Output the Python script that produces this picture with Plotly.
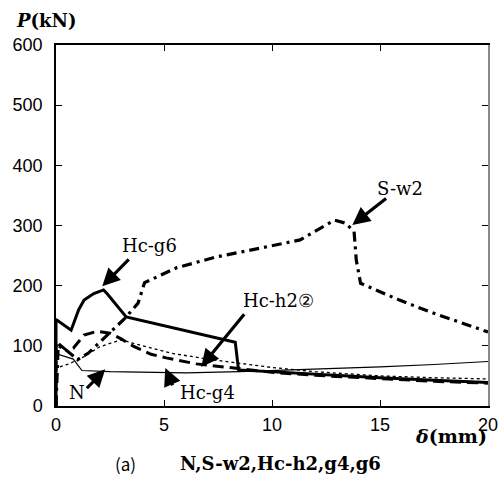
import plotly.graph_objects as go

# ---- data ----
n_x = [0, 0, 0.8, 1.2, 2.5, 6.0, 8.5, 11, 13, 15, 17.5, 20]
n_y = [0, 87, 78, 59, 57, 55, 57, 60, 62, 65, 69, 74]

sw2_x = [0, 0.1, 0.4, 1.0, 1.5, 2.0, 2.5, 3.2, 3.8, 4.1, 5.6, 7.45, 9.0, 11.3, 12.9, 13.4, 13.8, 13.9, 14.1, 15.9, 17.5, 20]
sw2_y = [0, 100, 95, 77, 88, 105, 122, 146, 171, 205, 230, 248, 259, 276, 309, 304, 290, 243, 204, 176, 154, 123]

h2_x = [0, 0, 0.6, 1.3, 2.0, 3.0, 4.0, 5.3, 7.0, 8.4, 10, 12, 15, 17.5, 20]
h2_y = [0, 63, 70, 82, 98, 110, 100, 88, 78, 71, 64, 57, 50, 47, 45]

g4_x = [0, 0, 0.5, 0.8, 1.3, 1.9, 2.5, 3.0, 3.6, 4.4, 5.1, 6.5, 8.0, 10, 12, 15, 17.5, 20]
g4_y = [0, 107, 92, 96, 118, 124, 121, 112, 99, 86, 80, 70, 64, 56, 51, 45, 41, 38]

g6_x = [0, 0, 0.7, 1.05, 1.3, 1.75, 2.2, 2.36, 3.25, 8.3, 8.45, 10, 12, 15, 17.5, 20]
g6_y = [0, 144, 126, 160, 176, 187, 193, 187, 148, 106, 60, 57, 52, 47, 43, 39]

x_ticks = [0, 5, 10, 15, 20]
y_ticks = [0, 100, 200, 300, 400, 500, 600]

# label texts and positions (data coords)
labels = ["Hc-g6", "N", "Hc-g4", "Hc-h2②", "S-w2"]
label_x = [4.33, 0.99, 7.0, 10.3, 15.94]
label_y = [266, 22, 22, 176, 362]
# arrows: tail -> head
arr_tail_x = [3.44, 1.36, 5.43, 8.77, 15.35]
arr_tail_y = [246, 27, 32, 155, 347]
arr_head_x = [2.14, 2.28, 5.06, 6.72, 13.72]
arr_head_y = [199, 61, 63, 65, 301]

SERIF = "DejaVu Serif"
SANS = "Liberation Sans"

fig = go.Figure()
fig.add_trace(go.Scatter(x=n_x, y=n_y, mode="lines", line=dict(color="black", width=1.2)))
fig.add_trace(go.Scatter(x=h2_x, y=h2_y, mode="lines", line=dict(color="black", width=1.3, dash="3px,3px")))
fig.add_trace(go.Scatter(x=g4_x, y=g4_y, mode="lines", line=dict(color="black", width=3, dash="11px,6px")))
fig.add_trace(go.Scatter(x=sw2_x, y=sw2_y, mode="lines", line=dict(color="black", width=3.2, dash="10px,5px,3px,5px")))
fig.add_trace(go.Scatter(x=g6_x, y=g6_y, mode="lines", line=dict(color="black", width=3)))
# right axis carrier
fig.add_trace(go.Scatter(x=[None], y=[None], yaxis="y2", showlegend=False))

anns = []
for t, lx, ly in zip(labels, label_x, label_y):
    anns.append(dict(x=lx, y=ly, xref="x", yref="y", text=t, showarrow=False,
                     font=dict(family=SERIF, size=18, color="black"),
                     xanchor="center", yanchor="middle"))
for tx, ty, hx, hy in zip(arr_tail_x, arr_tail_y, arr_head_x, arr_head_y):
    anns.append(dict(x=hx, y=hy, xref="x", yref="y", ax=tx, ay=ty, axref="x", ayref="y",
                     text="", showarrow=True, arrowhead=2, arrowsize=1.1, arrowwidth=3.2,
                     arrowcolor="black"))

anns += [
    dict(x=-0.021, y=1.069, xref="paper", yref="paper", showarrow=False,
         text="<b><i>P</i>(kN)</b>", font=dict(family=SERIF, size=18, color="black"),
         xanchor="center", yanchor="middle"),
    dict(x=0.914, y=-0.082, xref="paper", yref="paper", showarrow=False,
         text="<b><i>δ</i>(mm)</b>", font=dict(family=SERIF, size=19, color="black"),
         xanchor="center", yanchor="middle"),
    dict(x=0.162, y=-0.158, xref="paper", yref="paper", showarrow=False,
         text="(a)", font=dict(family="Noto Sans CJK JP", size=17, color="black"),
         xanchor="center", yanchor="middle"),
    dict(x=0.519, y=-0.158, xref="paper", yref="paper", showarrow=False,
         text="<b>N,S-w2,Hc-h2,g4,g6</b>", font=dict(family=SERIF, size=18, color="black"),
         xanchor="center", yanchor="middle"),
]

fig.update_layout(
    width=500, height=486,
    margin=dict(l=56, r=12, t=45, b=80, autoexpand=False),
    paper_bgcolor="white", plot_bgcolor="white",
    showlegend=False,
    xaxis=dict(range=[0, 20], tickvals=x_ticks, ticktext=[str(v) for v in x_ticks],
               ticks="inside", ticklen=6, tickcolor="black", tickwidth=1,
               showline=True, linecolor="black", linewidth=1.5, mirror="ticks",
               showgrid=False, zeroline=False, automargin=False,
               tickfont=dict(family=SANS, size=18, color="black"), ticklabelstandoff=2),
    yaxis=dict(range=[0, 600], tickvals=y_ticks, ticktext=[str(v) for v in y_ticks],
               ticks="inside", ticklen=6, tickcolor="black", tickwidth=1,
               showline=True, linecolor="black", linewidth=1.5,
               showgrid=False, zeroline=False, automargin=False,
               tickfont=dict(family=SANS, size=18, color="black"), ticklabelstandoff=8),
    yaxis2=dict(range=[0, 600], tickvals=y_ticks, overlaying="y", side="right",
                showticklabels=False, ticks="inside", ticklen=6, tickcolor="black",
                showline=True, linecolor="#888888", linewidth=1.5,
                showgrid=False, zeroline=False, automargin=False),
    annotations=anns,
)

fig.write_html("out.html", config={"displayModeBar": False},
               post_script="document.body.style.margin='0px';document.body.style.overflow='hidden';")
